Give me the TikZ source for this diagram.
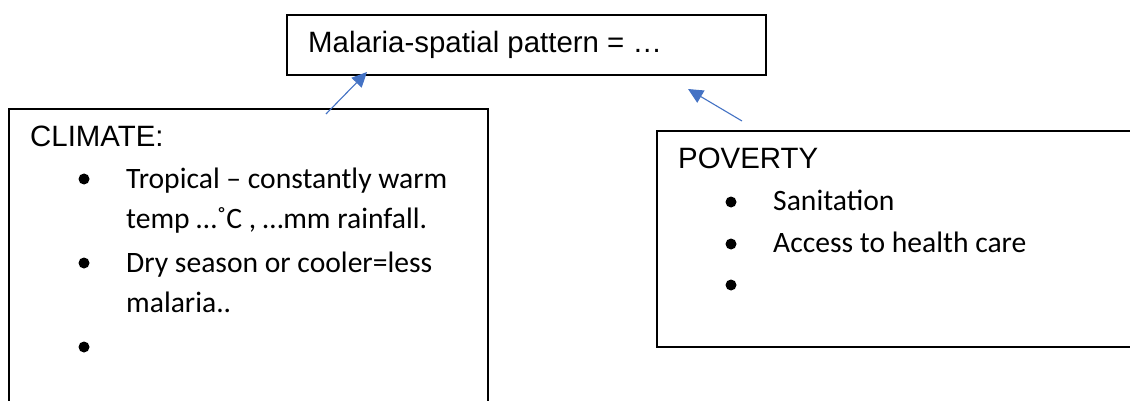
\documentclass[tikz,border=0pt]{standalone}
\usepackage{fontspec}
\setmainfont{Liberation Sans}
\newfontfamily\calfont{Carlito}
\usetikzlibrary{arrows.meta}
\definecolor{arrblue}{HTML}{4472C4}
\begin{document}
\begin{tikzpicture}[x=1pt,y=-1pt,
  box/.style={draw=black,line width=2pt,rectangle,inner sep=0pt},
  head/.style={anchor=base west,inner sep=0pt,font=\fontsize{29.4}{34}\selectfont},
  item/.style={anchor=base west,inner sep=0pt,font=\calfont\fontsize{29.6}{34}\selectfont},
  bulletdot/.style={circle,fill=black,inner sep=0pt,minimum size=11pt},
  arr/.style={draw=arrblue,line width=1.1pt,-{Triangle[length=15pt,width=14pt]}}]
\useasboundingbox (0,0) rectangle (1130,401);
\clip (0,0) rectangle (1130,401);
\fill[white] (0,0) rectangle (1130,401);
% boxes
\node[box,minimum width=479pt,minimum height=60pt] (top) at (526.5,45) {};
\node[box,minimum width=479pt,minimum height=330pt] (climate) at (248.5,274) {};
\node[box,minimum width=500pt,minimum height=216pt] (poverty) at (907,239) {};
% top text
\node[head] (ttext) at (308,53) {Malaria-spatial pattern = …};
% climate
\node[head] (ctitle) at (30,147) {CLIMATE:};
\node[bulletdot] (cb1) at (84,179) {};
\node[bulletdot] (cb2) at (84,263) {};
\node[bulletdot] (cb3) at (84,347) {};
\node[item] (ci1a) at (126,188) {Tropical – constantly warm};
\node[item] (ci1b) at (126,228) {temp …˚C , …mm rainfall.};
\node[item] (ci2a) at (126,272) {Dry season or cooler=less};
\node[item] (ci2b) at (126,312) {malaria..};
% poverty
\node[head] (ptitle) at (678,168) {POVERTY};
\node[bulletdot] (pb1) at (731,202) {};
\node[bulletdot] (pb2) at (731,244) {};
\node[bulletdot] (pb3) at (731,285) {};
\node[item] (pi1) at (773,210) {Sanitation};
\node[item] (pi2) at (773,252) {Access to health care};
% arrows
\coordinate (a1s) at (326,114);
\coordinate (a1t) at (367,72);
\coordinate (a2s) at (742,121);
\coordinate (a2t) at (688,89);
\draw[arr] (a1s) -- (a1t);
\draw[arr] (a2s) -- (a2t);
\end{tikzpicture}
\end{document}
